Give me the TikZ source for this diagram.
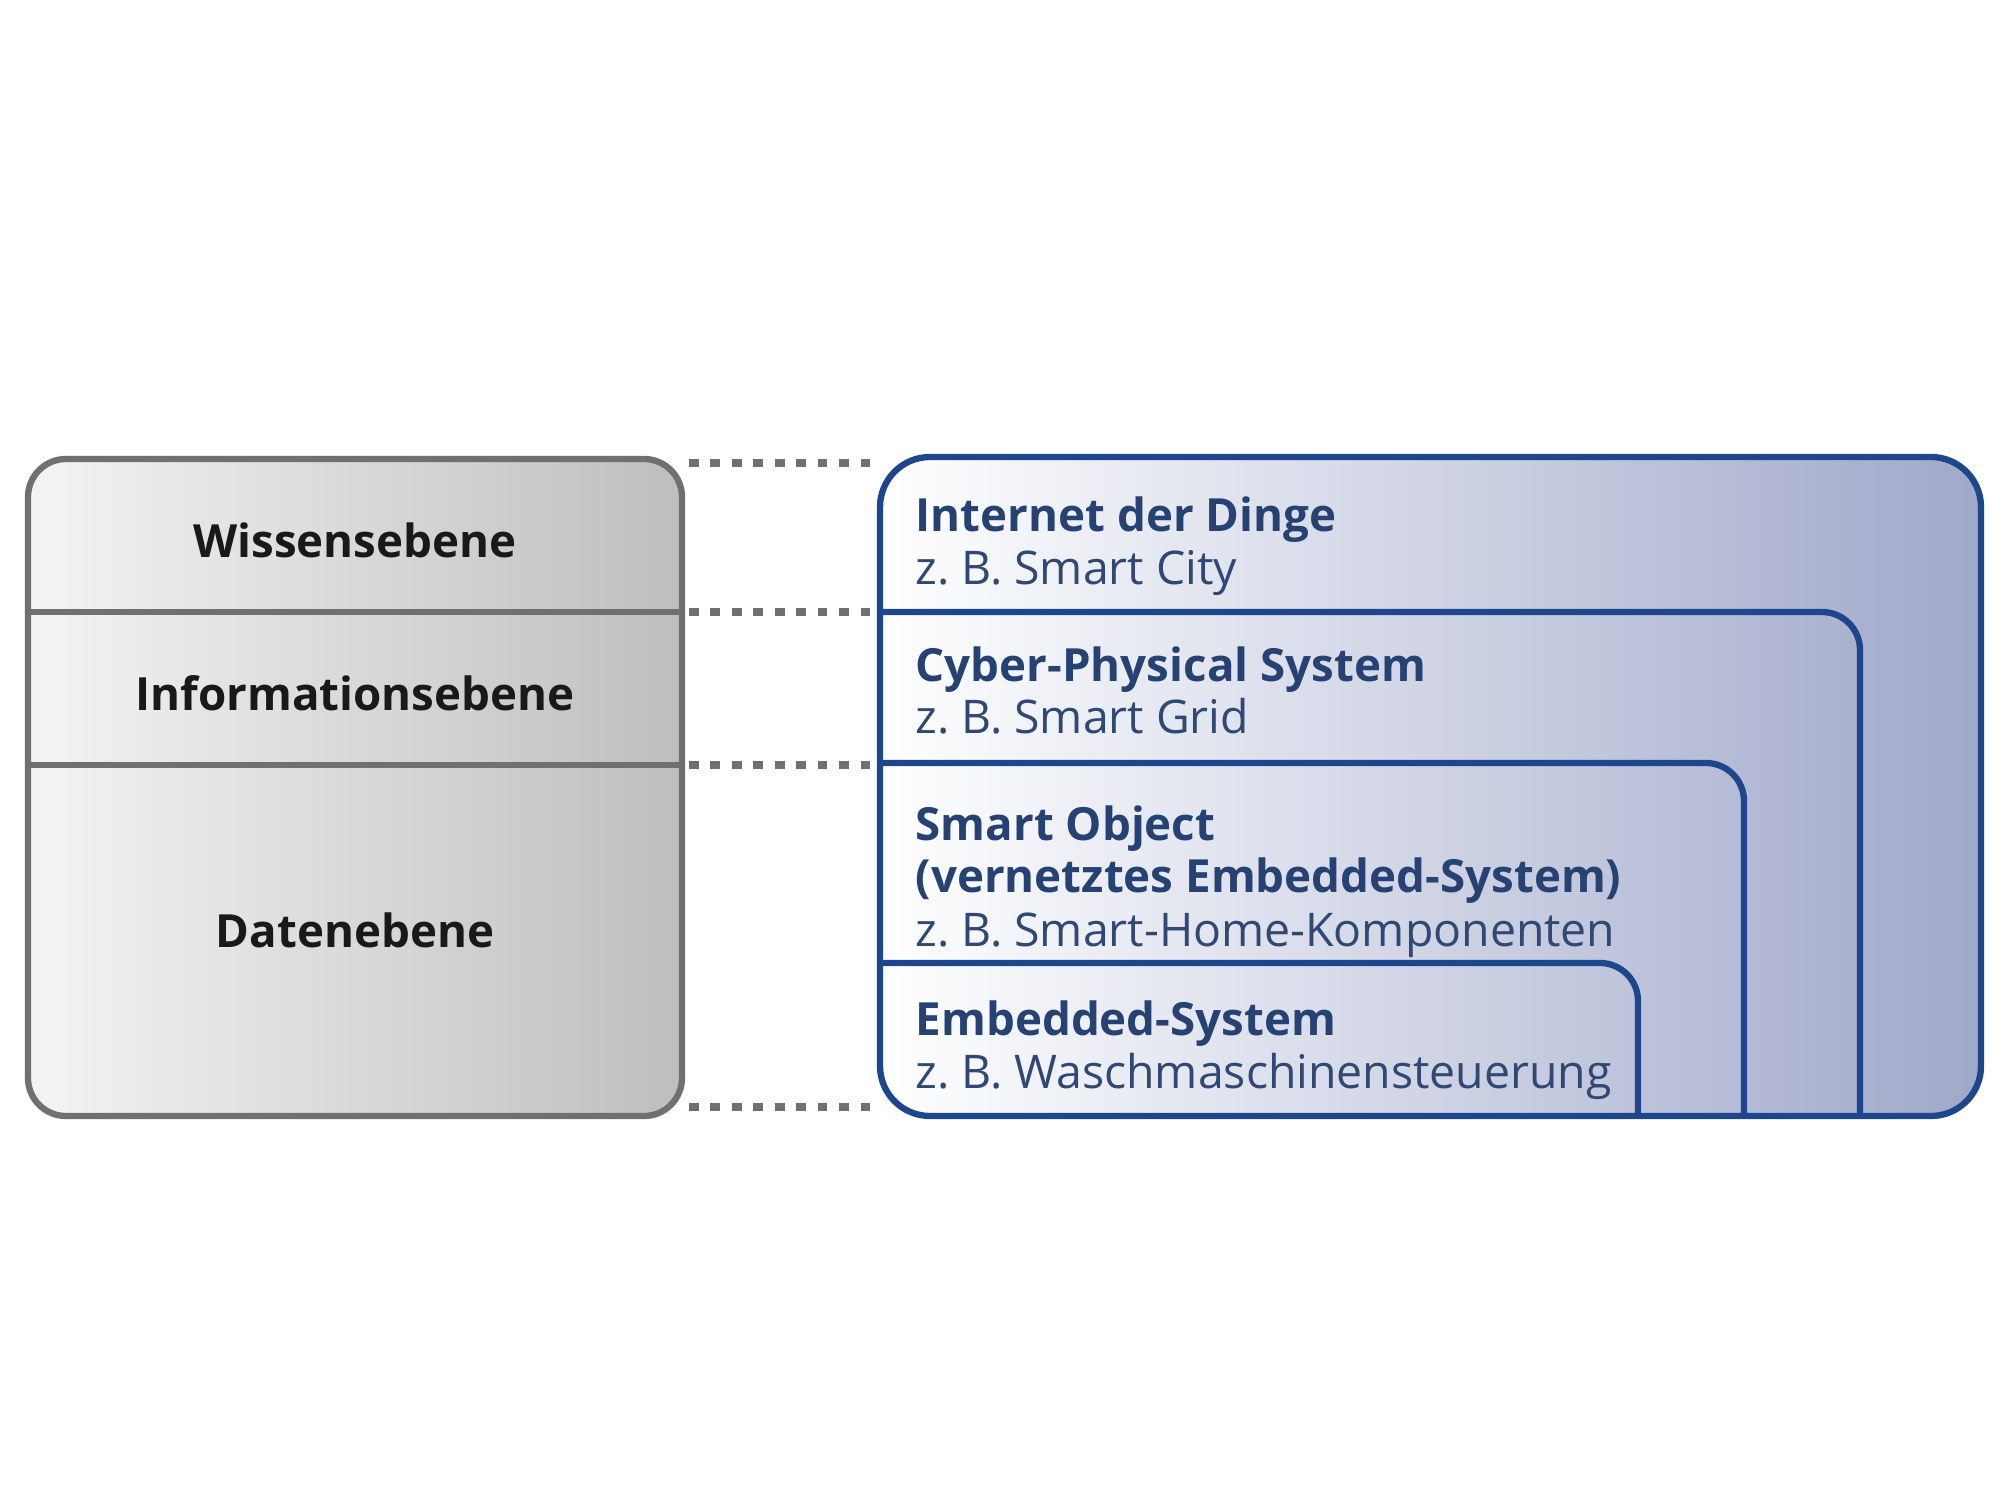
\documentclass[tikz,border=0pt]{standalone}
\usepackage{fontspec}
\setmainfont{Open Sans}
\usetikzlibrary{positioning}
\frenchspacing

\definecolor{grauRand}{RGB}{112,112,112}
\definecolor{grauHell}{RGB}{244,244,244}
\definecolor{grauDunkel}{RGB}{192,189,189}
\definecolor{blauRand}{RGB}{30,70,140}
\definecolor{blauHell}{RGB}{255,255,255}
\definecolor{blauDunkel}{RGB}{160,168,202}
\definecolor{blauText}{RGB}{38,66,115}

\tikzset{
  ebenetext/.style={font=\fontsize{13}{15}\selectfont\bfseries, text=black!90},
  titeltext/.style={anchor=base west, font=\fontsize{13}{15}\selectfont\bfseries, text=blauText, inner sep=0pt},
  bsptext/.style={anchor=base west, font=\fontsize{13.2}{15}\selectfont, text=blauText!90!gray, inner sep=0pt},
  blaulinie/.style={draw=blauRand, line width=1.8pt, rounded corners=0.38cm},
  punktlinie/.style={draw=grauRand, line width=2.1pt, dash pattern=on 2.8pt off 3.3pt}
}

\begin{document}
\begin{tikzpicture}
                \useasboundingbox (0,0) rectangle (20,15);

                \coordinate (L1) at (6.89, 10.37);
                \coordinate (L2) at (6.89, 8.88);
                \coordinate (L3) at (6.89, 7.35);
                \coordinate (L4) at (6.89, 3.93);
                \coordinate (R1) at (8.74, 10.37);
                \coordinate (R2) at (8.74, 8.88);
                \coordinate (R3) at (8.74, 7.35);
                \coordinate (R4) at (8.74, 3.93);

                % Ebenen links
                \shade[left color=grauHell, right color=grauDunkel, rounded corners=0.38cm]
                    (0.28, 3.84) rectangle (6.82, 10.41);
                \draw[grauRand, line width=1.8pt, rounded corners=0.38cm]
                    (0.28, 3.84) rectangle (6.82, 10.41);
                \draw[grauRand, line width=1.8pt] (0.28, 8.88) -- (6.82, 8.88);
                \draw[grauRand, line width=1.8pt] (0.28, 7.35) -- (6.82, 7.35);

                \node[ebenetext] (wissen) at (3.55, 9.60) {Wissensebene};
                \node[ebenetext] (info) at (3.55, 8.07) {Informationsebene};
                \node[ebenetext] (daten) at (3.55, 5.70) {Datenebene};

                % Verbindungen
                \draw[punktlinie] (L1) -- (R1);
                \draw[punktlinie] (L2) -- (R2);
                \draw[punktlinie] (L3) -- (R3);
                \draw[punktlinie] (L4) -- (R4);

                % Systeme rechts
                \shade[left color=blauHell, right color=blauDunkel, rounded corners=0.5cm]
                    (8.80, 3.84) rectangle (19.81, 10.43);
                \draw[blaulinie, rounded corners=0.5cm] (8.80, 3.84) rectangle (19.81, 10.43);
                \draw[blaulinie] (8.80, 8.88) -- (18.60, 8.88) -- (18.60, 3.84);
                \draw[blaulinie] (8.80, 7.37) -- (17.44, 7.37) -- (17.44, 3.84);
                \draw[blaulinie] (8.80, 5.37) -- (16.38, 5.37) -- (16.38, 3.84);

                \node[titeltext] (iot) at (9.15, 9.68) {Internet der Dinge};
                \node[bsptext] (iotbsp) at (9.15, 9.15) {z. B. Smart City};
                \node[titeltext] (cps) at (9.15, 8.18) {Cyber-Physical System};
                \node[bsptext] (cpsbsp) at (9.15, 7.66) {z. B. Smart Grid};
                \node[titeltext] (smo) at (9.15, 6.60) {Smart Object};
                \node[titeltext] (smo2) at (9.15, 6.08) {(vernetztes Embedded-System)};
                \node[bsptext] (smobsp) at (9.15, 5.54) {z. B. Smart-Home-Komponenten};
                \node[titeltext] (emb) at (9.15, 4.65) {Embedded-System};
                \node[bsptext] (embbsp) at (9.15, 4.12) {z. B. Waschmaschinensteuerung};
            \end{tikzpicture}
\end{document}
